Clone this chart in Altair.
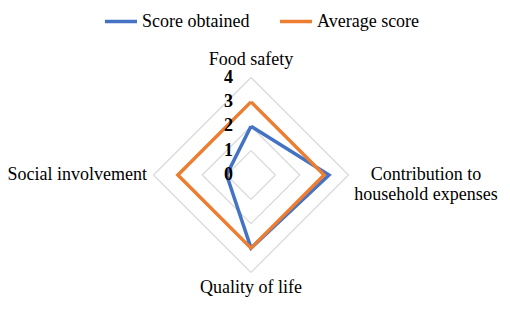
import altair as alt
import pandas as pd

categories = ["Food safety", "Contribution to household expenses", "Quality of life", "Social involvement"]
series_names = ["Score obtained", "Average score"]
score_obtained = [2.0, 3.2, 3.0, 1.0]
average_score = [3.0, 3.0, 3.0, 3.0]
grid_levels = [1, 2, 3, 4]
tick_labels = [0, 1, 2, 3, 4]

FONT = "'Liberation Serif', 'Times New Roman', 'DejaVu Serif', serif"

n = len(categories)

rows = []
for name, vals in zip(series_names, [score_obtained, average_score]):
    for i in range(n + 1):
        rows.append({"series": name, "idx": i, "value": vals[i % n]})
series_df = pd.DataFrame(rows)

grid_rows = []
for lv in grid_levels:
    for i in range(n + 1):
        grid_rows.append({"level": lv, "idx": i, "value": lv})
grid_df = pd.DataFrame(grid_rows)

tick_df = pd.DataFrame({"value": tick_labels, "label": [str(t) for t in tick_labels]})
lab_df = pd.DataFrame({"cat": categories, "idx": list(range(n)), "value": [4] * n})

xs = alt.Scale(domain=[-4, 4])
ys = alt.Scale(domain=[-4, 4])


def to_xy(ch):
    return ch.transform_calculate(
        ang=f"datum.idx * 2 * PI / {n}"
    ).transform_calculate(
        px="datum.value * sin(datum.ang)",
        py="datum.value * cos(datum.ang)",
    )


X = alt.X("px:Q", scale=xs, axis=None)
Y = alt.Y("py:Q", scale=ys, axis=None)

grid = to_xy(alt.Chart(grid_df)).mark_line(color="#d9d9d9", strokeWidth=1.2).encode(
    x=X, y=Y, detail="level:N", order="idx:Q",
)

lines = to_xy(alt.Chart(series_df)).mark_line(strokeWidth=3.5, strokeJoin="miter").encode(
    x=X,
    y=Y,
    color=alt.Color(
        "series:N",
        scale=alt.Scale(domain=series_names, range=["#4472C4", "#ED7D31"]),
        legend=alt.Legend(
            title=None,
            orient="none",
            direction="horizontal",
            legendX=-50.5,
            legendY=-74,
            symbolType="stroke",
            symbolSize=1024,
            symbolStrokeWidth=3.5,
            labelFont=FONT,
            labelFontSize=18,
            labelColor="#000000",
            labelOffset=3,
            columnPadding=23,
        ),
    ),
    order="idx:Q",
)

ticks = alt.Chart(tick_df).transform_calculate(zero="0").mark_text(
    align="right", baseline="middle", dx=-18, font=FONT, fontSize=18, fontWeight="bold", color="#000000"
).encode(
    x=alt.X("zero:Q", scale=xs, axis=None),
    y=alt.Y("value:Q", scale=ys, axis=None),
    text="label:N",
)


def label(i, **kw):
    base = to_xy(alt.Chart(lab_df).transform_filter(f"datum.idx == {i}"))
    return base.mark_text(font=FONT, fontSize=18, color="#000000", baseline="middle", **kw).encode(
        x=X, y=Y, text="cat:N",
    )


lab_top = label(0, align="center", dy=-17.5)
lab_right = to_xy(alt.Chart(lab_df).transform_filter("datum.idx == 1")).transform_calculate(
    lbl="['Contribution to', 'household expenses']"
).mark_text(
    font=FONT, fontSize=18, color="#000000", baseline="middle", align="center", dx=77.5, lineHeight=20
).encode(x=X, y=Y, text=alt.Text("lbl:N"))
lab_bottom = label(2, align="center", dy=15.5)
lab_left = label(3, align="right", dx=-6.5)

chart = alt.layer(grid, lines, ticks, lab_top, lab_right, lab_bottom, lab_left).properties(
    width=195,
    height=195,
    autosize=alt.AutoSizeParams(type="none"),
    padding={"left": 145.5, "top": 69.5, "right": 153.5, "bottom": 28.5},
    background="#ffffff",
).configure_view(stroke=None)

chart.save("out.html", embed_options={"renderer": "svg", "actions": False})
